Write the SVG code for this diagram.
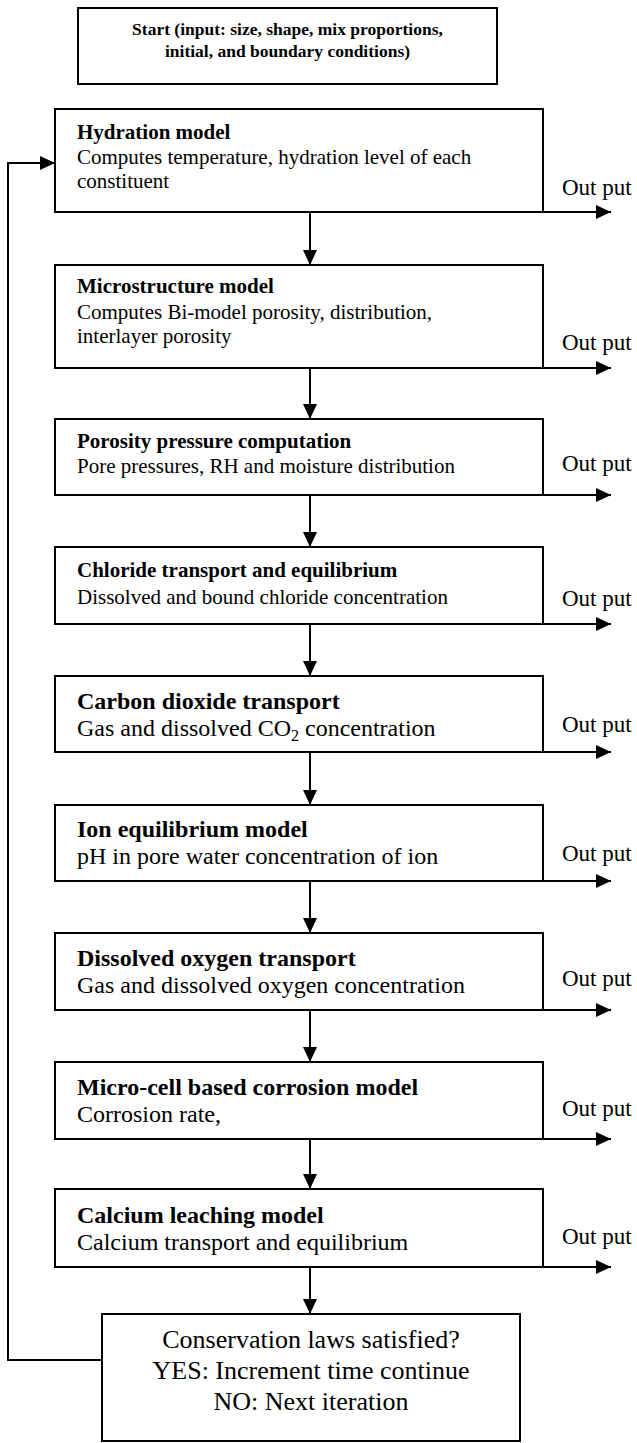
<svg xmlns="http://www.w3.org/2000/svg" width="637" height="1443" viewBox="0 0 637 1443">
<style>
.box{fill:#fff;stroke:#000;stroke-width:2}
.t{font-family:"Liberation Serif","Times New Roman",serif;fill:#000}
.b21{font-size:21px;font-weight:bold}
.r21{font-size:21px}
.b24{font-size:24px;font-weight:bold}
.r24{font-size:24px}
.out{font-size:23px}
.st{font-size:17.5px;font-weight:bold}
.cons{font-size:26px}
.ln{fill:none;stroke:#000;stroke-width:2}
</style>
<defs>
<marker id="ah" markerUnits="userSpaceOnUse" markerWidth="15" markerHeight="14" refX="15" refY="7" orient="auto">
<path d="M0,0 L15,7 L0,14 z" fill="#000"/>
</marker>
</defs>
<rect width="637" height="1443" fill="#fff"/>
<g id="start">
<rect class="box" x="78" y="8" width="419" height="76"/>
<text class="t st" x="287.5" y="35" text-anchor="middle">Start (input: size, shape, mix proportions,</text>
<text class="t st" x="287.5" y="57" text-anchor="middle">initial, and boundary conditions)</text>
</g>
<g id="hydration">
<rect class="box" x="55" y="109" width="488" height="103"/>
<text class="t b21" x="77" y="139">Hydration model</text>
<text class="t r21" x="77" y="164">Computes temperature, hydration level of each</text>
<text class="t r21" x="77" y="188">constituent</text>
<text class="t out" x="562" y="195">Out put</text>
</g>
<g id="microstructure">
<rect class="box" x="55" y="265" width="488" height="103"/>
<text class="t b21" x="77" y="293">Microstructure model</text>
<text class="t r21" x="77" y="319">Computes Bi-model porosity, distribution,</text>
<text class="t r21" x="77" y="343">interlayer porosity</text>
<text class="t out" x="562" y="350">Out put</text>
</g>
<g id="porosity">
<rect class="box" x="55" y="419" width="488" height="76"/>
<text class="t b21" x="77" y="448">Porosity pressure computation</text>
<text class="t r21" x="77" y="473">Pore pressures, RH and moisture distribution</text>
<text class="t out" x="562" y="471">Out put</text>
</g>
<g id="chloride">
<rect class="box" x="55" y="547" width="488" height="77"/>
<text class="t b21" x="77" y="577">Chloride transport and equilibrium</text>
<text class="t r21" x="77" y="604">Dissolved and bound chloride concentration</text>
<text class="t out" x="562" y="606">Out put</text>
</g>
<g id="carbon">
<rect class="box" x="55" y="676" width="488" height="76"/>
<text class="t b24" x="77" y="709">Carbon dioxide transport</text>
<text class="t r24" x="77" y="736">Gas and dissolved CO<tspan font-size="16" dy="5">2</tspan><tspan dy="-5"> concentration</tspan></text>
<text class="t out" x="562" y="732">Out put</text>
</g>
<g id="ion">
<rect class="box" x="55" y="805" width="488" height="76"/>
<text class="t b24" x="77" y="837">Ion equilibrium model</text>
<text class="t r24" x="77" y="864">pH in pore water concentration of ion</text>
<text class="t out" x="562" y="861">Out put</text>
</g>
<g id="oxygen">
<rect class="box" x="55" y="933" width="488" height="77"/>
<text class="t b24" x="77" y="966">Dissolved oxygen transport</text>
<text class="t r24" x="77" y="993">Gas and dissolved oxygen concentration</text>
<text class="t out" x="562" y="986">Out put</text>
</g>
<g id="corrosion">
<rect class="box" x="55" y="1062" width="488" height="77"/>
<text class="t b24" x="77" y="1095">Micro-cell based corrosion model</text>
<text class="t r24" x="77" y="1122">Corrosion rate,</text>
<text class="t out" x="562" y="1116">Out put</text>
</g>
<g id="calcium">
<rect class="box" x="55" y="1189" width="488" height="78"/>
<text class="t b24" x="77" y="1223">Calcium leaching model</text>
<text class="t r24" x="77" y="1250">Calcium transport and equilibrium</text>
<text class="t out" x="562" y="1244">Out put</text>
</g>
<g id="conservation">
<rect class="box" x="102" y="1314" width="418" height="127"/>
<text class="t cons" x="311" y="1348" text-anchor="middle">Conservation laws satisfied?</text>
<text class="t cons" x="311" y="1379" text-anchor="middle">YES: Increment time continue</text>
<text class="t cons" x="311" y="1410" text-anchor="middle">NO: Next iteration</text>
</g>
<g id="connectors">
<line class="ln" x1="310" y1="212" x2="310" y2="265" marker-end="url(#ah)"/>
<line class="ln" x1="310" y1="368" x2="310" y2="419" marker-end="url(#ah)"/>
<line class="ln" x1="310" y1="495" x2="310" y2="547" marker-end="url(#ah)"/>
<line class="ln" x1="310" y1="624" x2="310" y2="676" marker-end="url(#ah)"/>
<line class="ln" x1="310" y1="752" x2="310" y2="805" marker-end="url(#ah)"/>
<line class="ln" x1="310" y1="881" x2="310" y2="933" marker-end="url(#ah)"/>
<line class="ln" x1="310" y1="1010" x2="310" y2="1062" marker-end="url(#ah)"/>
<line class="ln" x1="310" y1="1139" x2="310" y2="1189" marker-end="url(#ah)"/>
<line class="ln" x1="310" y1="1267" x2="310" y2="1314" marker-end="url(#ah)"/>
<line class="ln" x1="543" y1="212" x2="611" y2="212" marker-end="url(#ah)"/>
<line class="ln" x1="543" y1="368" x2="611" y2="368" marker-end="url(#ah)"/>
<line class="ln" x1="543" y1="495" x2="611" y2="495" marker-end="url(#ah)"/>
<line class="ln" x1="543" y1="624" x2="611" y2="624" marker-end="url(#ah)"/>
<line class="ln" x1="543" y1="752" x2="611" y2="752" marker-end="url(#ah)"/>
<line class="ln" x1="543" y1="881" x2="611" y2="881" marker-end="url(#ah)"/>
<line class="ln" x1="543" y1="1010" x2="611" y2="1010" marker-end="url(#ah)"/>
<line class="ln" x1="543" y1="1139" x2="611" y2="1139" marker-end="url(#ah)"/>
<line class="ln" x1="543" y1="1267" x2="611" y2="1267" marker-end="url(#ah)"/>
<polyline class="ln" points="102,1360 8,1360 8,163 55,163" marker-end="url(#ah)"/>
</g>
</svg>
